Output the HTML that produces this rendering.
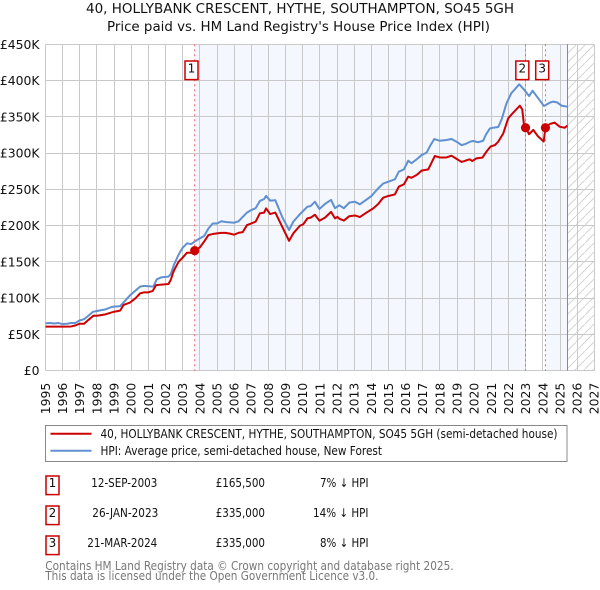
<!DOCTYPE html>
<html lang="en">
<head>
<meta charset="utf-8">
<title>40, Hollybank Crescent price chart</title>
<style>
html,body{margin:0;padding:0;background:#fff;}
svg{display:block;font-family:"DejaVu Sans","Liberation Sans",sans-serif;}
</style>
</head>
<body>
<svg id="chart" xmlns="http://www.w3.org/2000/svg" width="600" height="590" viewBox="0 0 600 590">
  <defs>
    <pattern id="hatch" patternUnits="userSpaceOnUse" width="9" height="9">
      <path d="M-1 10L10 -1" stroke="#d4d4d4" stroke-width="1" fill="none"/>
    </pattern>
  </defs>
  <text x="86" y="13" font-size="13" fill="#111" textLength="428" lengthAdjust="spacingAndGlyphs">40, HOLLYBANK CRESCENT, HYTHE, SOUTHAMPTON, SO45 5GH</text>
  <text x="107" y="31" font-size="13" fill="#111" textLength="383" lengthAdjust="spacingAndGlyphs">Price paid vs. HM Land Registry's House Price Index (HPI)</text>
  <g id="shades"></g>
  <g id="grid"></g>
  <g id="xlabels"></g>
  <g id="ylabels"></g>
  <g id="series"></g>
  <g id="events"></g>

  <g>
    <rect x="45.5" y="425.5" width="521.5" height="36" fill="#fff" stroke="#888" stroke-width="1"/>
    <line x1="50.5" x2="91.5" y1="433.7" y2="433.7" stroke="#cc0000" stroke-width="2"/>
    <text x="100.5" y="438" font-size="12" fill="#111" textLength="457" lengthAdjust="spacingAndGlyphs">40, HOLLYBANK CRESCENT, HYTHE, SOUTHAMPTON, SO45 5GH (semi-detached house)</text>
    <line x1="50.5" x2="91.5" y1="450.7" y2="450.7" stroke="#6090d0" stroke-width="2"/>
    <text x="100.5" y="455" font-size="12" fill="#111" textLength="281.5" lengthAdjust="spacingAndGlyphs">HPI: Average price, semi-detached house, New Forest</text>
  </g>

  <g font-size="12" fill="#111">
    <rect x="46" y="476" width="13" height="18.6" fill="#fff" stroke="#cc0000" stroke-width="1.5"/>
    <text x="52.5" y="487" text-anchor="middle">1</text>
    <text x="91.3" y="487" textLength="66" lengthAdjust="spacingAndGlyphs">12-SEP-2003</text>
    <text x="215.7" y="487" textLength="49.3" lengthAdjust="spacingAndGlyphs">£165,500</text>
    <text x="320" y="487" textLength="48.5" lengthAdjust="spacingAndGlyphs">7% ↓ HPI</text>

    <rect x="46" y="506" width="13" height="18.6" fill="#fff" stroke="#cc0000" stroke-width="1.5"/>
    <text x="52.5" y="517" text-anchor="middle">2</text>
    <text x="92.3" y="517" textLength="66" lengthAdjust="spacingAndGlyphs">26-JAN-2023</text>
    <text x="215.7" y="517" textLength="49.3" lengthAdjust="spacingAndGlyphs">£335,000</text>
    <text x="313" y="517" textLength="55.5" lengthAdjust="spacingAndGlyphs">14% ↓ HPI</text>

    <rect x="46" y="536" width="13" height="18.6" fill="#fff" stroke="#cc0000" stroke-width="1.5"/>
    <text x="52.5" y="547" text-anchor="middle">3</text>
    <text x="87.3" y="547" textLength="70" lengthAdjust="spacingAndGlyphs">21-MAR-2024</text>
    <text x="215.7" y="547" textLength="49.3" lengthAdjust="spacingAndGlyphs">£335,000</text>
    <text x="320" y="547" textLength="48.5" lengthAdjust="spacingAndGlyphs">8% ↓ HPI</text>
  </g>

  <text x="45.3" y="570" font-size="12" fill="#777" textLength="408.3" lengthAdjust="spacingAndGlyphs">Contains HM Land Registry data © Crown copyright and database right 2025.</text>
  <text x="45.3" y="580" font-size="12" fill="#777" textLength="333.2" lengthAdjust="spacingAndGlyphs">This data is licensed under the Open Government Licence v3.0.</text>
</svg>
<script>
const yearTicks = [1995,1996,1997,1998,1999,2000,2001,2002,2003,2004,2005,2006,2007,2008,2009,2010,2011,2012,2013,2014,2015,2016,2017,2018,2019,2020,2021,2022,2023,2024,2025,2026,2027];
const valueTicks = [0,50,100,150,200,250,300,350,400,450];
const valueTickLabels = ['£0','£50K','£100K','£150K','£200K','£250K','£300K','£350K','£400K','£450K'];

const hpiYears = [1995,1995.25,1995.5,1995.75,1996,1996.25,1996.5,1996.75,1997,1997.25,1997.5,1997.75,1998,1998.5,1998.86,1999.35,1999.93,2000.52,2000.75,2001,2001.29,2001.49,2001.75,2002.17,2002.3,2002.5,2002.75,2003,2003.25,2003.5,2003.75,2004,2004.25,2004.5,2004.75,2005,2005.25,2005.5,2006,2006.25,2006.5,2006.75,2007,2007.25,2007.5,2007.75,2007.86,2008.1,2008.4,2008.8,2009.2,2009.45,2009.84,2010.27,2010.46,2010.71,2010.97,2011.3,2011.65,2011.88,2012.13,2012.4,2012.71,2013.04,2013.33,2013.72,2014.01,2014.4,2014.69,2014.99,2015.37,2015.6,2015.9,2016.15,2016.34,2016.64,2016.93,2017.22,2017.45,2017.67,2017.99,2018.38,2018.68,2018.97,2019.26,2019.49,2019.75,2019.94,2020.23,2020.52,2020.67,2020.91,2021.1,2021.4,2021.6,2021.88,2022.17,2022.37,2022.62,2022.85,2023.2,2023.4,2023.73,2024.06,2024.4,2024.6,2024.83,2025.08,2025.43];
const hpiValues = [65.3,65.7,65,65.7,64.3,64.8,65.7,66,69.4,71,75.8,81,82.3,84.5,88,89,104,116,117,116.5,116,126,128.7,129.7,133,146.6,159.5,169.6,175.5,174.6,179,182.4,185.7,196,203,203,206,205,204,206,212,218,221.5,224,234,236.7,241,234.4,235,212,194,205.5,216,226,227,233,223,230,235.4,224,228,224,231.7,233,229.4,236,241,251.4,258,260.6,263.8,274.4,277.6,289.6,286,291.4,297.3,300.6,311,319.4,317,318,319.4,315.7,311,312.6,315.7,316.7,315,317,325,334,335,336,346.6,368.6,383,388,394.8,389,378.7,386,375.5,365,369.5,371,370,365.5,364];

const priceYears = [1995,1996,1996.5,1996.75,1997,1997.25,1997.5,1997.8,1998,1998.5,1999,1999.35,1999.55,1999.93,2000.25,2000.52,2000.75,2001,2001.25,2001.45,2002.17,2002.3,2002.46,2002.75,2003,2003.25,2003.5,2003.7,2004,2004.25,2004.5,2004.75,2005,2005.25,2005.5,2005.75,2006,2006.25,2006.5,2006.75,2007,2007.25,2007.5,2007.75,2007.86,2008.1,2008.4,2008.8,2009.2,2009.45,2009.84,2010.03,2010.27,2010.46,2010.71,2010.97,2011.3,2011.65,2011.88,2012.03,2012.13,2012.4,2012.71,2013.04,2013.33,2013.72,2014.11,2014.4,2014.69,2014.99,2015.37,2015.6,2015.9,2016.15,2016.34,2016.64,2016.93,2017.32,2017.51,2017.7,2017.99,2018.38,2018.67,2018.97,2019.26,2019.49,2019.74,2019.88,2020.13,2020.48,2020.71,2020.95,2021.2,2021.4,2021.69,2021.98,2022.27,2022.66,2022.8,2022.89,2022.99,2023.2,2023.44,2023.72,2024.05,2024.15,2024.4,2024.69,2024.98,2025.28,2025.43];
const priceValues = [60.7,60.7,61,62.5,64.8,64.8,70,75.9,75.8,77.7,81.3,82.8,90.6,94,100,106.7,108,108,110,118,119.6,125,136.5,150,156,162.7,162.7,165.5,170,178,187,188.4,189.3,190,190,189,187.5,190,191,200.8,203,205.4,217,218,223.8,216,218,198.6,179,189.4,200,201.8,210,211,215,206.8,211,219,210,212,209.6,207,213,214,211.8,218,223.8,229.8,238.6,240.9,243,253.7,257,267.5,266,269.8,275.8,277.6,286.8,296,294,294,296.4,292,287.8,289.6,291.4,289,292.8,293.8,302,309,311,315.8,327,348,355.8,365.4,360,341,335.5,326,332,323,316,335,340,342,336.4,335,337.8];

const saleNumbers = ['1','2','3'];
const saleYears = [2003.70,2022.99,2024.15];
const salePrices = [165.5,335,335];
const dataEndYear = 2025.46;

const NS = 'http://www.w3.org/2000/svg';
const plotLeft = 45.5, yearStep = 17.15, plotBottom = 370.7, plotTop = 44.3;
const xScale = function (year) { return plotLeft + (year - 1995) * yearStep; };
const yScale = function (value) { return plotBottom - value * (plotBottom - plotTop) / 450; };
const crisp = function (v) { return Math.floor(v) + 0.5; };
const plotRight = xScale(2027);

function make(tag, parentId, attrs) {
  const el = document.createElementNS(NS, tag);
  Object.keys(attrs).forEach(function (k) { el.setAttribute(k, attrs[k]); });
  document.getElementById(parentId).appendChild(el);
  return el;
}

/* shaded regions */
const shadeA = make('rect', 'shades', {x: xScale(saleYears[0]), y: plotTop, width: xScale(saleYears[1]) - xScale(saleYears[0]), height: plotBottom - plotTop, fill: '#f4f7fe'});


const shadeB = make('rect', 'shades', {x: xScale(saleYears[2]), y: plotTop, width: xScale(dataEndYear) - xScale(saleYears[2]), height: plotBottom - plotTop, fill: '#f4f7fe'});


const hatch = make('rect', 'shades', {x: xScale(dataEndYear), y: plotTop, width: plotRight - xScale(dataEndYear), height: plotBottom - plotTop, fill: 'url(#hatch)'});



/* grid and ticks */
yearTicks.forEach(function (year) {
  const x = crisp(xScale(year));
  const line = make('line', 'grid', {x1: x, x2: x, y1: crisp(plotTop), y2: crisp(plotBottom), stroke: '#c9c9c9', 'stroke-width': 1});
  
  
  const label = make('text', 'xlabels', {x: 0, y: 0, transform: 'translate(' + (xScale(year) + 4.4) + ' 382.7) rotate(-90)', 'text-anchor': 'end', 'font-size': 12.4, fill: '#111'});
  label.textContent = String(year);
  
  
});
valueTicks.forEach(function (value, i) {
  const y = crisp(yScale(value));
  const line = make('line', 'grid', {x1: crisp(plotLeft), x2: crisp(plotRight), y1: y, y2: y, stroke: '#c9c9c9', 'stroke-width': 1});
  
  
  const label = make('text', 'ylabels', {x: 39.5, y: yScale(value) + 4.5, 'text-anchor': 'end', 'font-size': 12.4, fill: '#111'});
  label.textContent = valueTickLabels[i];
  
  
});
const endLine = make('line', 'grid', {x1: crisp(xScale(dataEndYear)), x2: crisp(xScale(dataEndYear)), y1: plotTop, y2: plotBottom, stroke: '#888', 'stroke-width': 1});



/* series */
function pathFrom(years, values) {
  return years.map(function (year, i) {
    return (i ? 'L' : 'M') + xScale(year).toFixed(2) + ' ' + yScale(values[i]).toFixed(2);
  }).join('');
}
const hpiLine = make('path', 'series', {d: pathFrom(hpiYears, hpiValues), fill: 'none', stroke: '#6090d0', 'stroke-width': 2, 'stroke-linejoin': 'round'});


const priceLine = make('path', 'series', {d: pathFrom(priceYears, priceValues), fill: 'none', stroke: '#cc0000', 'stroke-width': 2, 'stroke-linejoin': 'round'});



/* sale events */
saleYears.forEach(function (year, i) {
  const x = xScale(year);
  const rule = make('line', 'events', {x1: x, x2: x, y1: plotTop, y2: plotBottom, stroke: '#f0606c', 'stroke-width': 1, 'stroke-dasharray': '2 3'});
  
  
  const dot = make('circle', 'events', {cx: x, cy: yScale(salePrices[i]), r: 4.6, fill: '#cc0000'});
  
  
  const box = make('rect', 'events', {x: x - 9.7, y: 61, width: 13, height: 18.6, fill: '#fff', stroke: '#cc0000', 'stroke-width': 1.5});
  
  
  const num = make('text', 'events', {x: x - 3.2, y: 72.5, 'text-anchor': 'middle', 'font-size': 12, fill: '#111'});
  num.textContent = saleNumbers[i];
  
  
});
</script>
</body>
</html>
